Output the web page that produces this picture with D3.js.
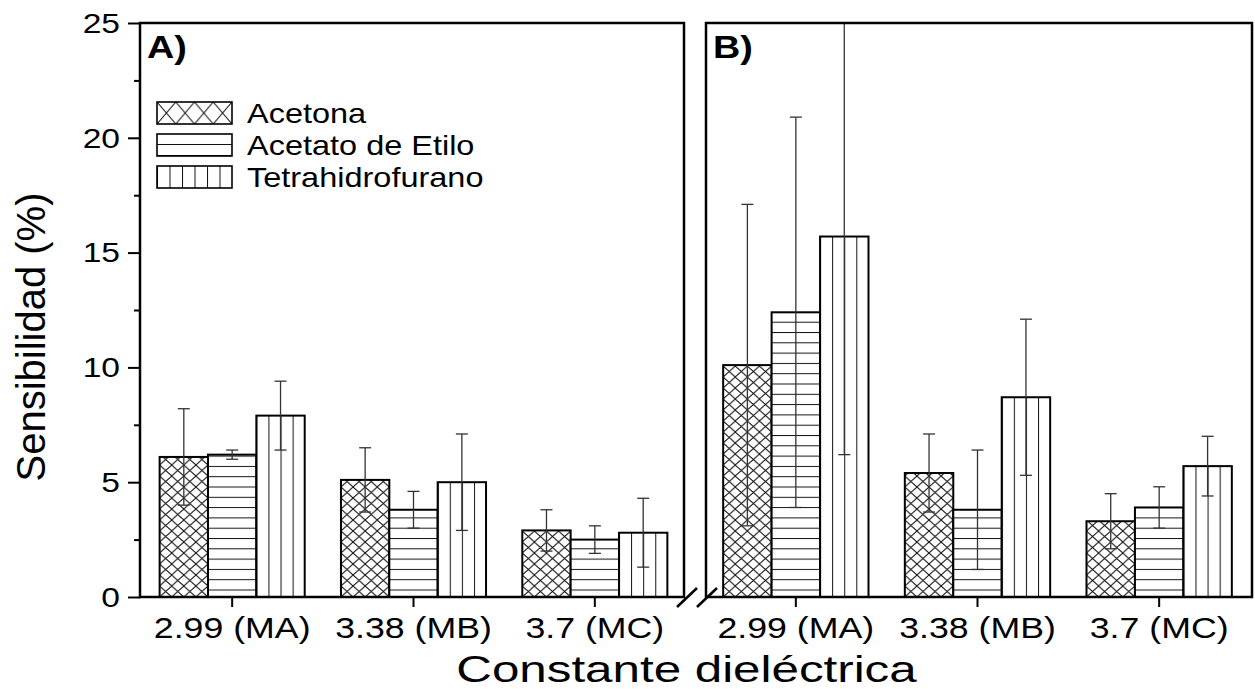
<!DOCTYPE html>
<html>
<head>
<meta charset="utf-8">
<script src="https://cdn.jsdelivr.net/npm/d3@7/dist/d3.min.js"></script>
<style>
  html, body { margin: 0; padding: 0; background: #fff; }
  svg { display: block; font-family: "Liberation Sans", Arial, sans-serif; }
</style>
</head>
<body>
<svg id="chart" width="1255" height="689"></svg>
<script>
// ---------- data ----------
const categories = ["2.99 (MA)", "3.38 (MB)", "3.7 (MC)"];
const seriesNames = ["Acetona", "Acetato de Etilo", "Tetrahidrofurano"];
const yTickValues = [0, 5, 10, 15, 20, 25];
const yMinorTickValues = [2.5, 7.5, 12.5, 17.5, 22.5];

// Panel A
const panelA_acetona = [6.1, 5.1, 2.9];
const panelA_acetona_err = [2.1, 1.4, 0.9];
const panelA_acetato = [6.2, 3.8, 2.5];
const panelA_acetato_err = [0.2, 0.8, 0.6];
const panelA_thf = [7.9, 5.0, 2.8];
const panelA_thf_err = [1.5, 2.1, 1.5];

// Panel B
const panelB_acetona = [10.1, 5.4, 3.3];
const panelB_acetona_err = [7.0, 1.7, 1.2];
const panelB_acetato = [12.4, 3.8, 3.9];
const panelB_acetato_err = [8.5, 2.6, 0.9];
const panelB_thf = [15.7, 8.7, 5.7];
const panelB_thf_err = [9.5, 3.4, 1.3];

// ---------- layout ----------
const svg = d3.select("#chart");
const yTop = 23, yBot = 597;
const y = d3.scaleLinear().domain([0, 25]).range([yBot, yTop]);
const patternIds = ["hatchCross", "hatchHoriz", "hatchVert"];
const legendPatternIds = ["legCross", "legHoriz", "legVert"];

const panels = [
  { label: "A)", x0: 140, x1: 684, range: [141.5, 685.5], showY: true,
    values: [panelA_acetona, panelA_acetato, panelA_thf],
    errors: [panelA_acetona_err, panelA_acetato_err, panelA_thf_err] },
  { label: "B)", x0: 706, x1: 1252, range: [705, 1250], showY: false,
    values: [panelB_acetona, panelB_acetato, panelB_thf],
    errors: [panelB_acetona_err, panelB_acetato_err, panelB_thf_err] }
];

// bar width (for patterns)
const probe = d3.scaleBand().domain(categories).range(panels[0].range).paddingInner(0.2).paddingOuter(0.1);
const probeInner = d3.scaleBand().domain(seriesNames).range([0, probe.bandwidth()]);
const bw = probeInner.bandwidth();

// ---------- patterns ----------
const defs = svg.append("defs");
function addPattern(id, w, h, draw, yOff) {
  const p = defs.append("pattern").attr("id", id)
    .attr("patternUnits", "userSpaceOnUse")
    .attr("x", 0).attr("y", yOff || 0)
    .attr("width", w).attr("height", h);
  p.append("rect").attr("width", w).attr("height", h).attr("fill", "#fff");
  draw(p, w, h);
}
const hs = "#111";
addPattern("hatchCross", bw / 4, 11, (p, w, h) => {
  p.append("path").attr("d", `M0,0L${w},${h}M${w},0L0,${h}`)
    .attr("stroke", hs).attr("stroke-width", 1).attr("fill", "none");
});
addPattern("hatchHoriz", 10, 10.3, (p, w, h) => {
  p.append("line").attr("x1", 0).attr("x2", w).attr("y1", 3.3).attr("y2", 3.3)
    .attr("stroke", hs).attr("stroke-width", 1);
});
addPattern("hatchVert", bw / 4, 10, (p, w, h) => {
  p.append("line").attr("x1", 0.5).attr("x2", 0.5).attr("y1", 0).attr("y2", h)
    .attr("stroke", hs).attr("stroke-width", 1);
});
addPattern("legCross", 75 / 4, 22, (p, w, h) => {
  p.append("path").attr("d", `M0,0L${w},${h}M${w},0L0,${h}`)
    .attr("stroke", hs).attr("stroke-width", 1).attr("fill", "none");
});
addPattern("legHoriz", 75, 11, (p, w, h) => {
  p.append("line").attr("x1", 0).attr("x2", w).attr("y1", 10.5).attr("y2", 10.5)
    .attr("stroke", hs).attr("stroke-width", 1);
});
addPattern("legVert", 12.5, 22, (p, w, h) => {
  p.append("line").attr("x1", 0.5).attr("x2", 0.5).attr("y1", 0).attr("y2", h)
    .attr("stroke", hs).attr("stroke-width", 1);
});

// helper: horizontally stretched text
function stretchedText(sel, x, yy, txt, size, sx, anchor, weight) {
  return sel.append("text")
    .attr("transform", `translate(${x},${yy}) scale(${sx},1)`)
    .attr("text-anchor", anchor || "start")
    .attr("font-size", size)
    .attr("font-weight", weight || "normal")
    .attr("fill", "#000")
    .text(txt);
}

// ---------- panels ----------
panels.forEach((pn, pi) => {
  const g = svg.append("g");
  const x = d3.scaleBand().domain(categories).range(pn.range).paddingInner(0.2).paddingOuter(0.1);
  const xs = d3.scaleBand().domain(seriesNames).range([0, x.bandwidth()]);

  const clipId = "clip" + pi;
  defs.append("clipPath").attr("id", clipId).append("rect")
    .attr("x", pn.x0).attr("y", yTop).attr("width", pn.x1 - pn.x0).attr("height", yBot - yTop);

  const plot = g.append("g").attr("clip-path", `url(#${clipId})`);

  // bars
  seriesNames.forEach((s, si) => {
    const rows = categories.map((c, ci) => ({ c, v: pn.values[si][ci], e: pn.errors[si][ci] }));
    plot.selectAll(null).data(rows).join("g")
      .attr("transform", d => `translate(${x(d.c) + xs(s)},${yBot})`)
      .append("rect")
      .attr("x", 0)
      .attr("y", d => y(d.v) - yBot)
      .attr("width", xs.bandwidth())
      .attr("height", d => yBot - y(d.v))
      .attr("fill", `url(#${patternIds[si]})`)
      .attr("stroke", "#000")
      .attr("stroke-width", 2);
  });

  // error bars
  seriesNames.forEach((s, si) => {
    const rows = categories.map((c, ci) => ({ c, v: pn.values[si][ci], e: pn.errors[si][ci] }));
    const eg = plot.selectAll(null).data(rows).join("g")
      .attr("transform", d => `translate(${x(d.c) + xs(s) + xs.bandwidth() / 2},0)`);
    const es = { stroke: "#333", "stroke-width": 1.3 };
    eg.append("line").attr("x1", 0).attr("x2", 0)
      .attr("y1", d => y(d.v + d.e)).attr("y2", d => y(d.v - d.e))
      .attr("stroke", es.stroke).attr("stroke-width", es["stroke-width"]);
    eg.append("line").attr("x1", -6).attr("x2", 6)
      .attr("y1", d => y(d.v + d.e)).attr("y2", d => y(d.v + d.e))
      .attr("stroke", es.stroke).attr("stroke-width", es["stroke-width"]);
    eg.append("line").attr("x1", -6).attr("x2", 6)
      .attr("y1", d => y(d.v - d.e)).attr("y2", d => y(d.v - d.e))
      .attr("stroke", es.stroke).attr("stroke-width", es["stroke-width"]);
  });

  // frame
  g.append("rect").attr("x", pn.x0).attr("y", yTop)
    .attr("width", pn.x1 - pn.x0).attr("height", yBot - yTop)
    .attr("fill", "none").attr("stroke", "#000").attr("stroke-width", 2.5);

  // x axis ticks
  const xa = g.append("g").attr("transform", `translate(0,${yBot})`)
    .call(d3.axisBottom(x).tickSize(10).tickSizeOuter(0));
  xa.select(".domain").remove();
  xa.selectAll(".tick line").attr("stroke", "#000").attr("stroke-width", 2);
  xa.selectAll(".tick text").remove();
  categories.forEach(c => {
    stretchedText(g, x(c) + x.bandwidth() / 2, 638, c, 30, 1.19, "middle");
  });

  // y axis
  if (pn.showY) {
    const ya = g.append("g").attr("transform", `translate(${pn.x0},0)`)
      .call(d3.axisLeft(y).tickValues(yTickValues).tickSize(12).tickFormat(""));
    ya.select(".domain").remove();
    ya.selectAll(".tick line").attr("stroke", "#000").attr("stroke-width", 2);
    const ym = g.append("g").attr("transform", `translate(${pn.x0},0)`)
      .call(d3.axisLeft(y).tickValues(yMinorTickValues).tickSize(6).tickFormat(""));
    ym.select(".domain").remove();
    ym.selectAll(".tick line").attr("stroke", "#000").attr("stroke-width", 2);
    yTickValues.forEach(v => {
      stretchedText(g, 120, y(v), String(v), 28, 1.2, "end").attr("dy", "0.35em");
    });
  }

  // panel label
  stretchedText(g, pn.x0 + 7, 58, pn.label, 32, 1.18, "start", "bold");

  // axis break slash
  const cornerX = pi === 0 ? pn.x1 + 3 : pn.x0 + 1;
  g.append("line").attr("x1", cornerX - 10).attr("y1", yBot + 10)
    .attr("x2", cornerX + 10).attr("y2", yBot - 9)
    .attr("stroke", "#000").attr("stroke-width", 2.5);
});

// ---------- legend ----------
const legend = svg.append("g");
const legTop = [102, 134, 166];
seriesNames.forEach((s, i) => {
  const lg = legend.append("g").attr("transform", `translate(157,${legTop[i]})`);
  lg.append("rect").attr("x", 0).attr("y", 0).attr("width", 75).attr("height", 22)
    .attr("fill", `url(#${legendPatternIds[i]})`)
    .attr("stroke", "#000").attr("stroke-width", 1.6);
  stretchedText(legend, 247, legTop[i] + 21, s, 28, 1.16, "start");
});

// ---------- axis titles ----------
stretchedText(svg, 686.5, 682, "Constante dieléctrica", 36, 1.37, "middle");
svg.append("text")
  .attr("transform", `translate(45,337) rotate(-90)`)
  .attr("text-anchor", "middle")
  .attr("font-size", 40)
  .attr("fill", "#000")
  .text("Sensibilidad (%)");
</script>
</body>
</html>
